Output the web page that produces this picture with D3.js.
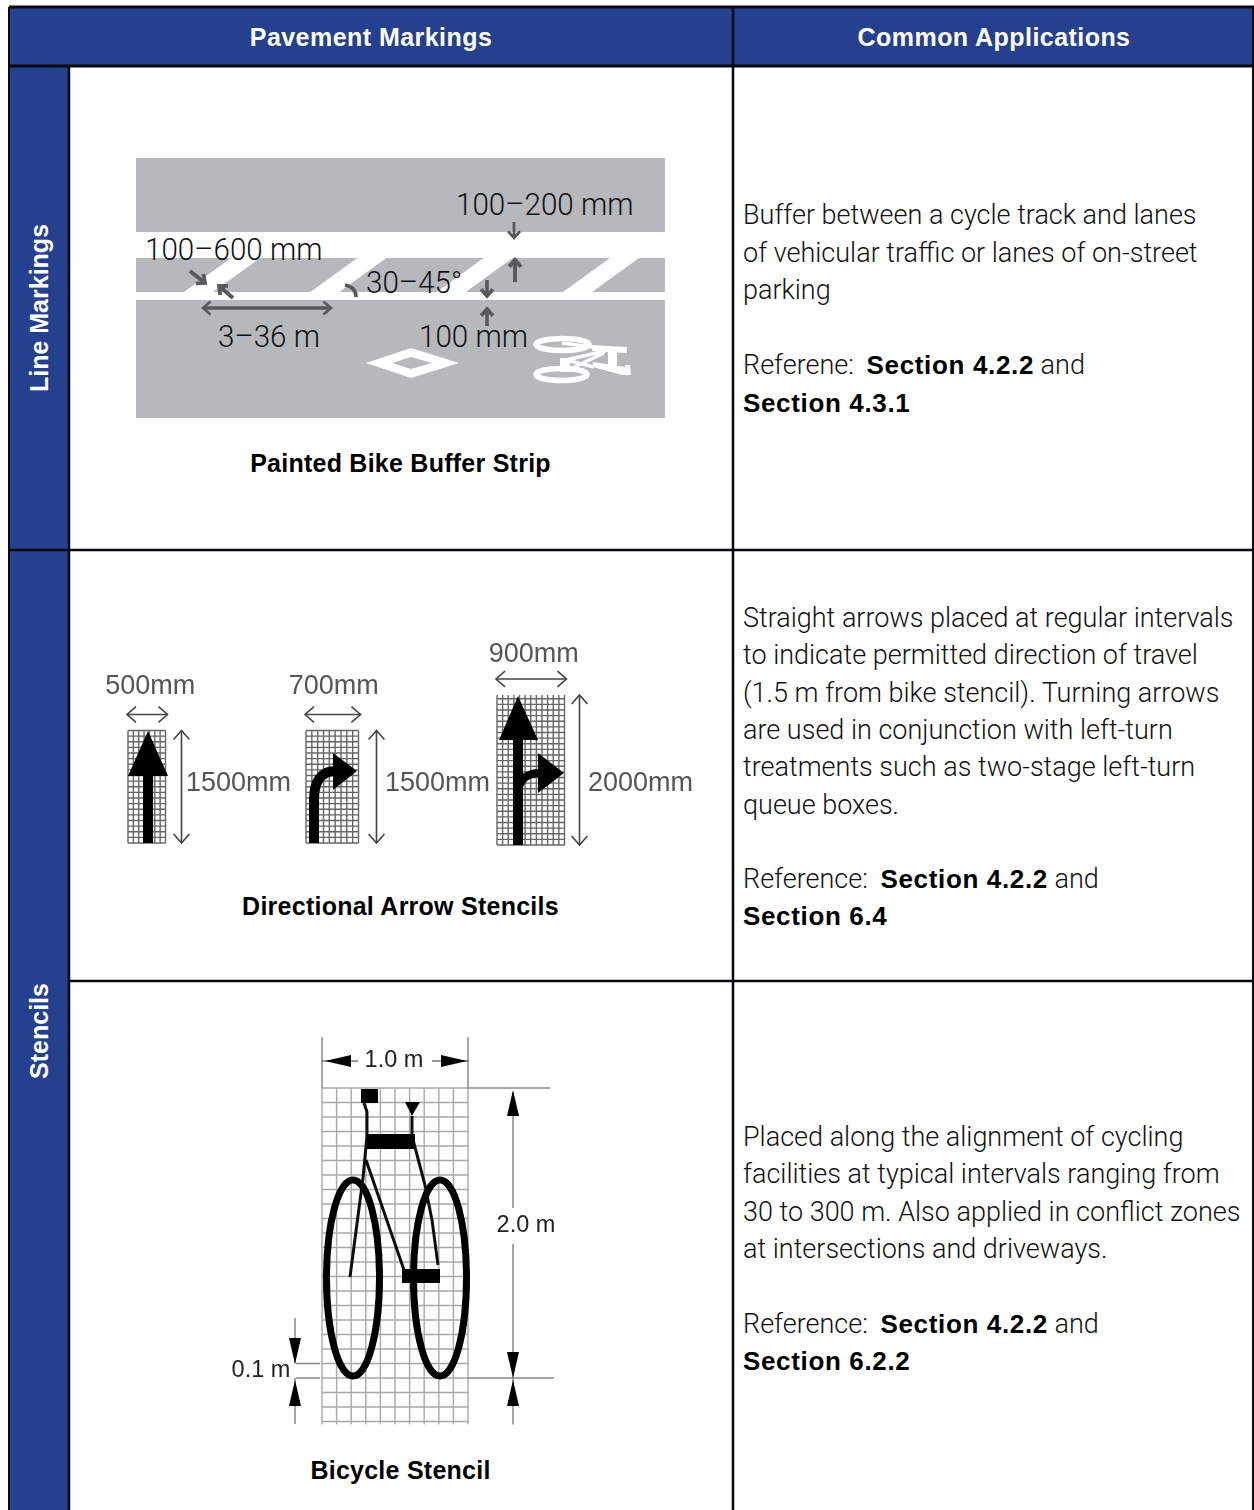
<!DOCTYPE html>
<html>
<head>
<meta charset="utf-8">
<script src="https://cdn.jsdelivr.net/npm/d3@7"></script>
<style>
  html,body{margin:0;padding:0;background:#fff;}
  svg{display:block;}
  .head{font:bold 25px "Liberation Sans",sans-serif;fill:#fff;text-anchor:middle;letter-spacing:.45px;}
  .side{font:bold 25px "Liberation Sans",sans-serif;fill:#fff;text-anchor:middle;}
  .cap{font:bold 25px "Liberation Sans",sans-serif;fill:#000;text-anchor:middle;letter-spacing:.25px;}
  .body{font:300 27px Roboto,sans-serif;fill:#111;}
  .body .b{font:bold 26px "Liberation Sans",sans-serif;fill:#000;letter-spacing:.65px;}
  .road_lbl{font:300 32px Roboto,sans-serif;fill:#111;}
  .stencil_lbl{font:27px "Liberation Sans",sans-serif;fill:#555;}
  .bike_lbl{font:23.5px "Liberation Sans",sans-serif;fill:#222;}
</style>
</head>
<body>
<svg></svg>
<script>
// table text
const headers = ['Pavement Markings','Common Applications'];
const sideLabels = ['Line Markings','Stencils'];
const captions = ['Painted Bike Buffer Strip','Directional Arrow Stencils','Bicycle Stencil'];
// each line is a list of [text, bold]
const applications = [
  [ [['Buffer between a cycle track and lanes',0]],
    [['of vehicular traffic or lanes of on-street',0]],
    [['parking',0]],
    [],
    [['Referene: ',0],['Section 4.2.2',1],[' and',0]],
    [['Section 4.3.1',1]] ],
  [ [['Straight arrows placed at regular intervals',0]],
    [['to indicate permitted direction of travel',0]],
    [['(1.5 m from bike stencil). Turning arrows',0]],
    [['are used in conjunction with left-turn',0]],
    [['treatments such as two-stage left-turn',0]],
    [['queue boxes.',0]],
    [],
    [['Reference: ',0],['Section 4.2.2',1],[' and',0]],
    [['Section 6.4',1]] ],
  [ [['Placed along the alignment of cycling',0]],
    [['facilities at typical intervals ranging from',0]],
    [['30 to 300 m. Also applied in conflict zones',0]],
    [['at intersections and driveways.',0]],
    [],
    [['Reference: ',0],['Section 4.2.2',1],[' and',0]],
    [['Section 6.2.2',1]] ]
];
// stencil sizes in mm
const stencilWidths = [500,700,900];
const stencilHeights = [1500,1500,2000];
// bicycle stencil size in m
const bikeWidth = 1.0;
const bikeHeight = 2.0;
const bikeClear = 0.1;
// buffer strip labels
const roadLabels = ['100\u2013200 mm','100\u2013600 mm','30\u201345\u00b0','3\u201336 m','100 mm'];

const W = 1254, H = 1510;
const BLUE = '#25408f';
const svg = d3.select('svg').attr('width',W).attr('height',H);
const defs = svg.append('defs');
defs.append('filter').attr('id','soft').append('feGaussianBlur').attr('stdDeviation',0.6);

function draw_line(p,x1,y1,x2,y2,color,w){
  return p.append('line').attr('x1',x1).attr('y1',y1).attr('x2',x2).attr('y2',y2)
    .attr('stroke',color).attr('stroke-width',w);
}
function draw_text(p,x,y,text,cls){
  return p.append('text').attr('class',cls).attr('x',x).attr('y',y).text(text);
}
function draw_poly(p,pts,color){
  return p.append('path').attr('d',d3.line()(pts)+'Z').attr('fill',color);
}
// open chevron head, tip at x,y, dir in degrees (0 = right)
function draw_chevron(p,x,y,dir,size,color,w){
  const a = dir*Math.PI/180, s = 0.72;
  const pts = [[x-size*Math.cos(a-s),y-size*Math.sin(a-s)],[x,y],[x-size*Math.cos(a+s),y-size*Math.sin(a+s)]];
  return p.append('path').attr('d',d3.line()(pts)).attr('fill','none')
    .attr('stroke',color).attr('stroke-width',w);
}
// stroke with chevron at the end
function draw_arrow(p,x1,y1,x2,y2,color,w,size){
  draw_line(p,x1,y1,x2,y2,color,w);
  const dir = Math.atan2(y2-y1,x2-x1)*180/Math.PI;
  draw_chevron(p,x2,y2,dir,size,color,w);
}
// solid head of the bike drawing
function draw_head(p,x,y,dir,color){
  const len=26, hw=6, a=dir*Math.PI/180;
  const ux=Math.cos(a), uy=Math.sin(a);
  draw_poly(p,[[x,y],[x-len*ux-hw*uy,y-len*uy+hw*ux],[x-len*ux+hw*uy,y-len*uy-hw*ux]],color);
}

// ---- table frame ----
const colX = [9,69,733,1253];
const rowY = [7,66,550,981,H];
const frame = svg.append('g');
frame.append('rect').attr('x',colX[0]).attr('y',rowY[0]).attr('width',colX[3]-colX[0]).attr('height',rowY[1]-rowY[0]).attr('fill',BLUE);
frame.append('rect').attr('x',colX[0]).attr('y',rowY[1]).attr('width',colX[1]-colX[0]).attr('height',H-rowY[1]).attr('fill',BLUE);

[[colX[0],rowY[0],colX[0],H,2],[colX[1],rowY[1],colX[1],H,2.5],[colX[2],rowY[0],colX[2],H,2.5],[colX[3],rowY[0],colX[3],H,2],
 [colX[0],rowY[0],W,rowY[0],2.8],[colX[0],rowY[1],W,rowY[1],2.8],[colX[0],rowY[2],W,rowY[2],2.5],[colX[1],rowY[3],W,rowY[3],2.5]]
  .forEach(l=>draw_line(frame,l[0],l[1],l[2],l[3],'#07090f',l[4]));

frame.selectAll('.head').data(headers).enter().append('text').attr('class','head')
  .attr('x',(d,i)=>i==0?371:994).attr('y',46).text(d=>d);
frame.selectAll('.side').data(sideLabels).enter().append('text').attr('class','side')
  .attr('transform',(d,i)=>'translate(48,'+(i==0?308:1031)+') rotate(-90)').text(d=>d);
frame.selectAll('.cap').data(captions).enter().append('text').attr('class','cap')
  .attr('x',400.5).attr('y',(d,i)=>[472,915,1479][i]).text(d=>d);

// right column text
const firstBase = [224,627,1146], lineH = [37.5,37.3,37.3];
applications.forEach((cell,c)=>{
  const g = svg.append('g').attr('class','body');
  cell.forEach((runs,i)=>{
    if(!runs.length) return;
    const t = g.append('text').attr('x',743).attr('y',firstBase[c]+i*lineH[c]);
    t.selectAll('tspan').data(runs).enter().append('tspan')
      .attr('class',d=>d[1]?'b':null).attr('dx',(d,j)=>(d[1]&&j>0)?6:null)
      .style('white-space','pre').text(d=>d[0]);
  });
});

// ---- painted buffer strip ----
const road = svg.append('g');
const GREY='#b7b8bb', DARK='#58595b';
road.append('rect').attr('x',136).attr('y',158).attr('width',529).attr('height',260).attr('fill',GREY);
road.append('rect').attr('x',136).attr('y',232).attr('width',529).attr('height',26).attr('fill','#fff');
road.append('rect').attr('x',136).attr('y',292).attr('width',529).attr('height',8).attr('fill','#fff');
// slanted stripes, each given by its lower left corner
const stripeStart = d3.scaleLinear().domain([0,3]).range([184,563]);
d3.range(4).forEach(i=>{
  const x0 = stripeStart(i);
  draw_poly(road,[[x0,292],[x0+29,292],[x0+76,258],[x0+47,258]],'#fff');
});
// diamond
draw_poly(road,[[366,363],[411,348],[459,363],[411,378]],'#fff');
draw_poly(road,[[392,363],[411,357],[432,363],[411,369]],GREY);
// bike marking
const bm = road.append('g').attr('fill','none').attr('stroke','#fff');
bm.append('ellipse').attr('cx',562.5).attr('cy',344.5).attr('rx',26.5).attr('ry',6).attr('stroke-width',5.5);
bm.append('ellipse').attr('cx',561.5).attr('cy',374.5).attr('rx',25.5).attr('ry',6).attr('stroke-width',5.5);
bm.append('path').attr('stroke-width',3.5).attr('d','M562,343 L592,347 M566,360 L605,351 M566,360 L594,367 M566,371 L604,353');
draw_poly(road,[[560,358],[570,358],[570,372],[560,372]],'#fff');
draw_poly(road,[[592,345],[627,347],[627,353],[592,351]],'#fff');
draw_poly(road,[[608,350],[617,350],[617,368],[608,368]],'#fff');
draw_poly(road,[[593,362],[625,367],[625,365],[630,365],[631,375],[622,375],[593,367]],'#fff');

// dimension arrows
draw_arrow(road,514,222,514,238,DARK,2.8,9);
draw_arrow(road,515,282,515,260,DARK,4,9);
draw_arrow(road,487,280,487,296,DARK,3.6,9);
draw_arrow(road,487,326,487,309,DARK,3.6,9);
draw_arrow(road,190,271,205,283,DARK,3.8,9);
draw_arrow(road,233,298,219,286,DARK,3.8,9);
draw_line(road,203,308,331,308,DARK,3.6);
draw_chevron(road,203,308,180,10,DARK,2.6);
draw_chevron(road,331,308,0,10,DARK,2.6);
road.append('path').attr('d','M345,285 Q356,287 356,297').attr('fill','none').attr('stroke',DARK).attr('stroke-width',3.6);

const roadPos = [[456,215],[145,260],[366,293],[218,347],[419,347]];
road.selectAll('.road_lbl').data(roadLabels).enter().append('text').attr('class','road_lbl')
  .attr('transform',(d,i)=>'translate('+roadPos[i]+') scale(.925,1)').text(d=>d);

// ---- directional arrow stencils ----
const mm = d3.scaleLinear().domain([0,1000]).range([0,75]);
const gridStep = 75;
const stencilX = [128,306,497], stencilBottom = [843,843,845];
const st = svg.append('g').attr('filter','url(#soft)');
stencilWidths.forEach((w,i)=>{
  const x0 = stencilX[i], y1 = stencilBottom[i], y0 = y1-mm(stencilHeights[i]);
  const step = w/Math.round(w/gridStep);
  const g = st.append('g');
  d3.range(0,w+1,step).forEach(v=>draw_line(g,x0+mm(v),y0,x0+mm(v),y1,'#666',1.4));
  d3.range(0,stencilHeights[i]+1,gridStep).forEach(v=>draw_line(g,x0,y1-mm(v),x0+mm(w),y1-mm(v),'#666',1.4));
  // width arrow
  const dy = y0-16, xa = x0-1, xb = x0+mm(w)+2;
  draw_line(st,xa,dy,xb,dy,'#444',1.6);
  draw_chevron(st,xa,dy,180,12,'#444',1.6);
  draw_chevron(st,xb,dy,0,12,'#444',1.6);
  // height arrow
  const ax = x0+mm(w)+[16,18,15][i];
  draw_line(st,ax,y0,ax,y1,'#444',1.6);
  draw_chevron(st,ax,y0,-90,12,'#444',1.6);
  draw_chevron(st,ax,y1,90,12,'#444',1.6);
  draw_text(st,x0+mm(w)/2+[3.5,1.5,3][i],y0-[37,37,33][i],w+'mm','stencil_lbl').attr('text-anchor','middle');
  draw_text(st,[186,385,588][i],791,stencilHeights[i]+'mm','stencil_lbl');
});
// straight arrow
draw_poly(st,[[148,731],[168,776],[153,776],[153,843],[143,843],[143,776],[128,776]],'#000');
// turn arrow
st.append('path').attr('d','M314,843 L314,800 Q314,771 336,771').attr('fill','none').attr('stroke','#000').attr('stroke-width',10);
draw_poly(st,[[333,753],[357,771],[333,790]],'#000');
// straight + turn arrow
draw_poly(st,[[518,696],[538,740],[523,740],[523,845],[513,845],[513,740],[499,740]],'#000');
st.append('path').attr('d','M518,792 Q520,773 540,773').attr('fill','none').attr('stroke','#000').attr('stroke-width',8);
draw_poly(st,[[538,753],[564,773],[538,793]],'#000');

// ---- bicycle stencil ----
const mx = d3.scaleLinear().domain([0,bikeWidth]).range([322,468]);
const my = d3.scaleLinear().domain([0,bikeHeight]).range([1088,1378]);
const bike = svg.append('g').attr('filter','url(#soft)');
d3.range(0,bikeWidth+0.01,0.1).forEach(v=>draw_line(bike,mx(v),my(0),mx(v),my(2.32),'#a8a8a8',1.4));
d3.range(0,2.33,0.1).forEach(v=>draw_line(bike,mx(0),my(v),mx(bikeWidth),my(v),'#a8a8a8',1.4));
// wheels
[353,440].forEach(cx=>{
  bike.append('ellipse').attr('cx',cx).attr('cy',my(bikeHeight)-100).attr('rx',26.5).attr('ry',98)
    .attr('fill','none').attr('stroke','#000').attr('stroke-width',7);
});
const bl = bike.append('path').attr('fill','none').attr('stroke','#111').attr('stroke-width',3);
bl.attr('d','M364,1103 L367,1112 L367,1136 L363,1178 L350,1277 M366,1160 L404,1270 M412,1116 L412,1136 L425,1185 L432,1220 L438,1265');
bike.append('rect').attr('x',361).attr('y',1089).attr('width',17).attr('height',14).attr('fill','#000');
draw_poly(bike,[[405,1102],[420,1102],[412,1116]],'#000');
bike.append('rect').attr('x',367).attr('y',1134).attr('width',48).attr('height',15).attr('fill','#000');
bike.append('rect').attr('x',402).attr('y',1269).attr('width',38).attr('height',14).attr('fill','#000');
// dimensions
const DG='#888';
draw_line(bike,mx(0),1037,mx(0),my(0),DG,1.5);
draw_line(bike,mx(1),1037,mx(1),my(0),DG,1.5);
draw_line(bike,mx(1),my(0),550,my(0),DG,1.5);
draw_line(bike,mx(1),my(2),554,my(2),DG,1.5);
draw_line(bike,322,1061,358,1061,'#333',1.2);
draw_line(bike,432,1061,468,1061,'#333',1.2);
draw_head(bike,325,1061,180,'#000');
draw_head(bike,467,1061,0,'#000');
draw_text(bike,394,1067,bikeWidth.toFixed(1)+' m','bike_lbl').attr('text-anchor','middle');
draw_line(bike,513,1092,513,1208,DG,1.5);
draw_line(bike,513,1244,513,my(2.32),DG,1.5);
draw_head(bike,513,1090,-90,'#000');
draw_head(bike,513,1378,90,'#000');
draw_head(bike,513,1380,-90,'#000');
draw_text(bike,526,1232,bikeHeight.toFixed(1)+' m','bike_lbl').attr('text-anchor','middle');
// clearance
draw_line(bike,295,1318,295,my(bikeHeight-bikeClear),DG,1.5);
draw_line(bike,295,my(bikeHeight),295,1424,DG,1.5);
draw_line(bike,296,my(bikeHeight-bikeClear),320,my(bikeHeight-bikeClear),DG,1.5);
draw_line(bike,296,my(bikeHeight),320,my(bikeHeight),DG,1.5);
draw_head(bike,295,1364,90,'#000');
draw_head(bike,295,1380,-90,'#000');
draw_text(bike,261,1377,bikeClear.toFixed(1)+' m','bike_lbl').attr('text-anchor','middle');
</script>
</body>
</html>
